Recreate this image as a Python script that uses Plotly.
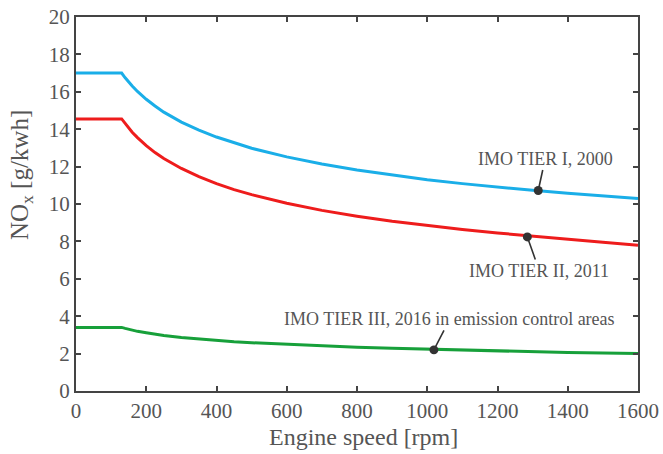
import plotly.graph_objects as go

# Engine speed [rpm]
speed = [0, 130, 140, 150, 160, 175, 200, 225, 250, 300, 350, 400, 450, 500, 600, 700, 800,
         900, 1000, 1100, 1200, 1300, 1400, 1500, 1600]

# NOx limits [g/kWh]
tier1 = [17.0, 17.0, 16.75, 16.52, 16.31, 16.02, 15.60, 15.24, 14.91, 14.38, 13.95, 13.58,
         13.26, 12.98, 12.52, 12.14, 11.82, 11.55, 11.30, 11.09, 10.90, 10.73, 10.57, 10.42, 10.29]
tier2 = [14.55, 14.55, 14.31, 14.05, 13.84, 13.55, 13.12, 12.75, 12.43, 11.90, 11.46, 11.09,
         10.77, 10.50, 10.04, 9.66, 9.35, 9.08, 8.85, 8.64, 8.45, 8.27, 8.10, 7.95, 7.80]
tier3 = [3.4, 3.4, 3.35, 3.30, 3.25, 3.19, 3.11, 3.03, 2.97, 2.86, 2.77, 2.70,
         2.63, 2.58, 2.49, 2.41, 2.34, 2.28, 2.23, 2.18, 2.14, 2.10, 2.06, 2.03, 2.00]

labels = ["IMO TIER I, 2000", "IMO TIER II, 2011",
          "IMO TIER III, 2016 in emission control areas"]
label_pts = [(1316, 10.72), (1285, 8.24), (1019, 2.20)]
label_offsets = [(7, -32), (12, 34), (16, -31)]

xticks = list(range(0, 1601, 200))
yticks = list(range(0, 21, 2))

FONT = "Liberation Serif"
TXT = "#555555"

fig = go.Figure()
for y, c in [(tier1, "#1aaee8"), (tier2, "#ee1c1c"), (tier3, "#17a03a")]:
    fig.add_trace(go.Scatter(x=speed, y=y, mode="lines",
                             line=dict(color=c, width=3),
                             showlegend=False, hoverinfo="skip"))

for txt, (px, py), (ax, ay) in zip(labels, label_pts, label_offsets):
    fig.add_annotation(x=px, y=py, text=txt, showarrow=True, ax=ax, ay=ay,
                       arrowhead=6, arrowsize=1.4, arrowwidth=1.6, arrowcolor="#333333",
                       font=dict(family=FONT, size=18, color=TXT))

# axis titles
fig.add_annotation(text="Engine speed [rpm]", xref="paper", yref="paper", x=0.5, y=0,
                   xanchor="center", yanchor="middle", xshift=6, yshift=-46, showarrow=False,
                   font=dict(family=FONT, size=24, color=TXT))
fig.add_annotation(text="NO<sub>x</sub> [g/kwh]", xref="paper", yref="paper", x=0, y=0.5775,
                   xanchor="center", yanchor="middle", xshift=-55, textangle=-90, showarrow=False,
                   font=dict(family=FONT, size=25, color=TXT))

axis_common = dict(showline=True, linecolor="#444444", linewidth=2, mirror="ticks",
                   ticks="inside", ticklen=5, tickwidth=1.5, tickcolor="#444444",
                   showgrid=False, zeroline=False, automargin=False,
                   ticklabeloverflow="allow",
                   tickfont=dict(family=FONT, size=21, color=TXT))

fig.update_xaxes(range=[0, 1600], tickvals=xticks, ticktext=[str(v) for v in xticks],
                 **axis_common)
fig.update_yaxes(range=[0, 20], tickvals=yticks, ticktext=[str(v) for v in yticks],
                 **axis_common)

fig.update_layout(width=663, height=454, margin=dict(l=76, r=25, t=17, b=63),
                  plot_bgcolor="white", paper_bgcolor="white")

# remove the default page margin so the figure fills the 663x454 window
fig.write_html("out.html", config={"displayModeBar": False},
               post_script="document.body.style.margin='0';")
